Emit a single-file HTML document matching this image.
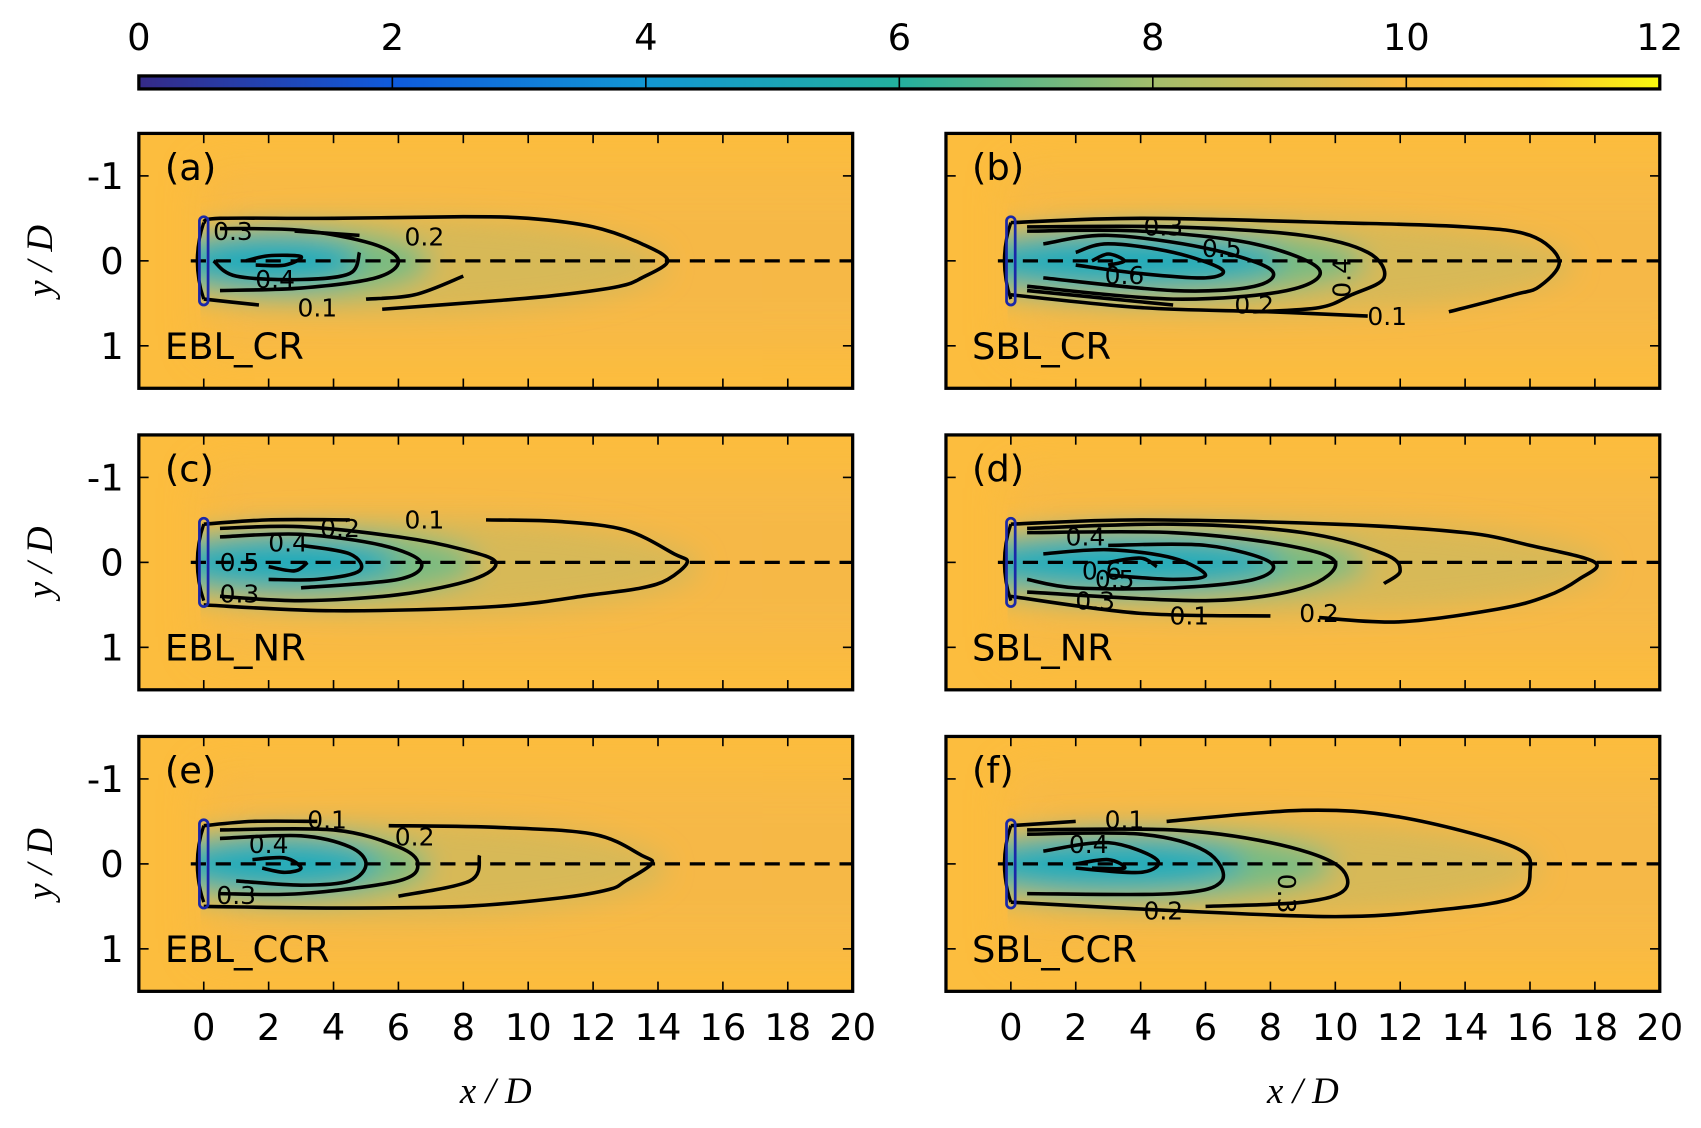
<!DOCTYPE html>
<html><head><meta charset="utf-8"><style>
html,body{margin:0;padding:0;background:#fff;}
svg{display:block;}
text{font-family:"DejaVu Sans","Liberation Sans",sans-serif;}
</style></head><body>
<svg id="fig" width="1701" height="1128" viewBox="0 0 1568 1040" preserveAspectRatio="none" xmlns="http://www.w3.org/2000/svg">
<defs>
<linearGradient id="cmap" x1="0" x2="1" y1="0" y2="0">
<stop offset="0" stop-color="#352a87"/><stop offset="0.17" stop-color="#0f5cdd"/>
<stop offset="0.33" stop-color="#1296d4"/><stop offset="0.5" stop-color="#23b09e"/>
<stop offset="0.67" stop-color="#a5be6b"/><stop offset="0.83" stop-color="#f8ba3f"/>
<stop offset="0.92" stop-color="#fbc530"/><stop offset="1" stop-color="#f9fb0e"/>
</linearGradient>
<filter id="blur" x="-50%" y="-50%" width="200%" height="200%"><feGaussianBlur stdDeviation="12"/></filter>
<filter id="blur2" x="-50%" y="-50%" width="200%" height="200%"><feGaussianBlur stdDeviation="20"/></filter>
</defs>
<g id="cbar"></g>
<g id="panels"></g>
</svg>
<script>
const cbTicks = [0, 2, 4, 6, 8, 10, 12];
const xTicks = [0, 2, 4, 6, 8, 10, 12, 14, 16, 18, 20];
const yTicks = [-1, 0, 1];
const panelNames = ["EBL_CR", "SBL_CR", "EBL_NR", "SBL_NR", "EBL_CCR", "SBL_CCR"];
const panelLetters = ["(a)", "(b)", "(c)", "(d)", "(e)", "(f)"];
// wake extents (x/D) for colour field: [outer length, mid length, core length]
const wakeLen = [[14, 7, 4], [17, 11, 7], [15, 8.5, 5], [18, 11, 7], [14, 7, 4.5], [16, 10, 6]];
const contoursA = [
 [[0,-0.45],[0.5,-0.5],[4,-0.5],[8,-0.52],[10,-0.5],[12,-0.4],[13.5,-0.2],[14.3,0],[13.5,0.2],[12.8,0.3],[11,0.4],[9,0.47],[5.5,0.57]],
 [[0,0.45],[1.7,0.52]],
 [[0.5,-0.38],[3,-0.36],[5.2,-0.2],[6,0],[5.3,0.2],[3,0.32],[0.5,0.35]],
 [[2.8,-0.35],[4.8,-0.3]],
 [[4.8,-0.1],[4.5,0.15],[3,0.22],[1,0.18],[0.3,0]],
 [[8,0.18],[6.5,0.4],[5,0.45]],
 [[1.3,0],[2,-0.06],[3,-0.05],[2.5,0.05],[1.6,0.05]]];
const contoursB = [
 [[0,-0.45],[4,-0.5],[10,-0.45],[14,-0.4],[16,-0.3],[16.9,0],[16.3,0.3],[15.5,0.4],[13.5,0.6]],
 [[0,0.4],[4,0.55],[8,0.6],[11,0.65]],
 [[0.5,-0.4],[5,-0.4],[9,-0.3],[11,-0.1],[11.5,0.2],[10.5,0.4],[9.5,0.55],[7.5,0.6]],
 [[0.5,0.35],[5,0.52]],
 [[0.5,-0.35],[4,-0.35],[7.5,-0.2],[9.5,0.1],[8.5,0.35],[5,0.45],[0.5,0.3]],
 [[1,-0.2],[3,-0.3],[6,-0.15],[8,0.1],[7.5,0.3],[5,0.35],[1,0.2]],
 [[2,-0.1],[3,-0.2],[5,-0.1],[6.5,0.1],[6,0.2],[4,0.15],[2,0.05]],
 [[2.5,0],[3,-0.08],[3.5,0],[3,0.05]]];
const contoursC = [
 [[8.7,-0.5],[11,-0.48],[13,-0.38],[14.5,-0.1],[14.9,0],[14.3,0.2],[13.5,0.3],[12,0.38],[9,0.52],[4,0.57],[0,0.5]],
 [[0,-0.45],[2,-0.5],[4.5,-0.5]],
 [[0.5,-0.4],[3,-0.42],[6,-0.3],[8,-0.15],[9,0],[8.3,0.2],[6,0.38],[3,0.45],[0.5,0.4]],
 [[0.5,-0.3],[3,-0.33],[5.5,-0.2],[6.7,0],[6,0.2],[3,0.3]],
 [[3,-0.2],[4.5,-0.1],[4.8,0.1],[3.5,0.2],[2,0.2]],
 [[2,0.05],[2.8,0.1],[3.2,0]]];
const contoursD = [
 [[0,-0.45],[4,-0.5],[10,-0.45],[14,-0.35],[16,-0.2],[18,0],[17.5,0.2],[16.5,0.4],[15,0.55],[12,0.7],[9.5,0.65]],
 [[0,0.4],[4,0.6],[8,0.63]],
 [[0.5,-0.4],[5,-0.45],[9,-0.35],[11.5,-0.1],[12,0.1],[11.5,0.25]],
 [[0.5,-0.35],[5,-0.35],[8.5,-0.2],[10,0],[9,0.3],[6,0.45],[0.5,0.35]],
 [[3,-0.2],[6,-0.2],[8,0],[7.5,0.2],[5,0.3],[2,0.3],[0.5,0.2]],
 [[1,-0.1],[3,-0.15],[5,-0.05],[6,0.15],[5,0.2],[3,0.15]],
 [[3,0],[4,-0.05],[4.5,0.05]]];
const contoursE = [
 [[5.7,-0.45],[9,-0.43],[12,-0.35],[13.5,-0.1],[13.8,0],[13,0.2],[12.5,0.3],[11,0.4],[8,0.5],[4,0.52],[0,0.5]],
 [[0,-0.45],[1.5,-0.5],[3.5,-0.5]],
 [[0.5,-0.4],[4,-0.4],[6,-0.2],[6.6,0],[6,0.2],[3,0.35],[0.5,0.35]],
 [[8.5,-0.1],[8.2,0.2],[6,0.38]],
 [[0.5,-0.3],[3,-0.33],[4.5,-0.2],[5,0],[4.5,0.2],[3,0.25],[1,0.2]],
 [[1.5,-0.05],[2.5,-0.07],[3,0.05],[2.5,0.1],[1.8,0.05]]];
const contoursF = [
 [[4.8,-0.5],[9,-0.63],[12,-0.55],[15.5,-0.2],[16,0.1],[15.5,0.4],[13,0.55],[10,0.62],[5,0.55],[0,0.45]],
 [[0,-0.45],[2,-0.5]],
 [[0.5,-0.4],[5,-0.4],[8,-0.25],[10,0],[10.3,0.3],[9,0.45],[6,0.5]],
 [[0.5,-0.35],[4,-0.35],[6,-0.15],[6.5,0.2],[5,0.35],[0.5,0.35]],
 [[1,-0.15],[3,-0.25],[4.5,-0.05],[4,0.1],[2,0.05]],
 [[2,0],[3,-0.05],[3.5,0.05],[2.5,0.05]]];
const allContours = [contoursA, contoursB, contoursC, contoursD, contoursE, contoursF];
// contour labels: [text, x, y, rotation]
const labelsA = [["0.3",0.9,-0.35,0],["0.2",6.8,-0.28,0],["0.4",2.2,0.22,0],["0.1",3.5,0.55,0]];
const labelsB = [["0.3",4.7,-0.4,0],["0.5",6.5,-0.15,0],["0.6",3.5,0.17,0],["0.4",10.2,0.2,-90],["0.2",7.5,0.52,0],["0.1",11.6,0.65,0]];
const labelsC = [["0.1",6.8,-0.5,0],["0.2",4.2,-0.4,0],["0.4",2.6,-0.23,0],["0.5",1.1,0,0],["0.3",1.1,0.37,0]];
const labelsD = [["0.4",2.3,-0.3,0],["0.6",2.8,0.1,0],["0.5",3.2,0.2,0],["0.3",2.6,0.45,0],["0.1",5.5,0.63,0],["0.2",9.5,0.6,0]];
const labelsE = [["0.1",3.8,-0.52,0],["0.2",6.5,-0.32,0],["0.4",2,-0.23,0],["0.3",1,0.37,0]];
const labelsF = [["0.1",3.5,-0.52,0],["0.4",2.4,-0.23,0],["0.2",4.7,0.55,0],["0.3",8.5,0.35,90]];
const allLabels = [labelsA, labelsB, labelsC, labelsD, labelsE, labelsF];

const NS = "http://www.w3.org/2000/svg";
function mk(tag, attrs, parent) {
  const e = document.createElementNS(NS, tag);
  for (const k in attrs) e.setAttribute(k, attrs[k]);
  if (parent) parent.appendChild(e);
  return e;
}
const cb = document.getElementById('cbar');
const cbX0 = 128, cbX1 = 1530;
const cbScale = v => cbX0 + (v / 12) * (cbX1 - cbX0);
const cbRect = mk('rect', {x: cbX0, y: 70, width: cbX1 - cbX0, height: 12, fill: 'url(#cmap)', stroke: '#000', 'stroke-width': 3}, cb);


cbTicks.forEach(v => {
  const x = cbScale(v);
  mk('line', {x1: x, x2: x, y1: 70, y2: 82, stroke: '#000', 'stroke-width': 1.5}, cb);
  const t = mk('text', {x: x, y: 46, 'font-size': 34, 'text-anchor': 'middle'}, cb);
  t.textContent = v;
  
  
});

function smoothPath(pts) {
  let d = 'M' + pts[0][0] + ',' + pts[0][1];
  for (let i = 0; i < pts.length - 1; i++) {
    const p0 = pts[Math.max(0, i - 1)], p1 = pts[i], p2 = pts[i + 1], p3 = pts[Math.min(pts.length - 1, i + 2)];
    const c1 = [p1[0] + (p2[0] - p0[0]) / 6, p1[1] + (p2[1] - p0[1]) / 6];
    const c2 = [p2[0] - (p3[0] - p1[0]) / 6, p2[1] - (p3[1] - p1[1]) / 6];
    d += 'C' + c1[0].toFixed(1) + ',' + c1[1].toFixed(1) + ' ' + c2[0].toFixed(1) + ',' + c2[1].toFixed(1) + ' ' + p2[0].toFixed(1) + ',' + p2[1].toFixed(1);
  }
  return d;
}

const panelsG = document.getElementById('panels');
const colX = [128, 872], rowY = [123, 401, 679];
const PW = 658, PH = 235;
for (let i = 0; i < 6; i++) {
  const px = colX[i % 2], py = rowY[Math.floor(i / 2)];
  const xs = x => px + (x + 2) / 22 * PW;
  const ys = y => py + (y + 1.5) / 3 * PH;
  const g = mk('g', {}, panelsG);
  
  
  const cid = 'clip' + i;
  const cp = mk('clipPath', {id: cid}, g);
  mk('rect', {x: px, y: py, width: PW, height: PH}, cp);
  const wid = 'wclip' + i;
  const wcp = mk('clipPath', {id: wid}, g);
  mk('rect', {x: xs(-0.1), y: py, width: PW, height: PH}, wcp);
  const field = mk('g', {'clip-path': 'url(#' + cid + ')'}, g);
  
  
  mk('rect', {x: px, y: py, width: PW, height: PH, fill: '#fcbd3e'}, field);
  mk('rect', {x: xs(0), y: ys(-1.05), width: PW, height: ys(1.05) - ys(-1.05), fill: '#f4b74c', opacity: 0.7, filter: 'url(#blur2)'}, field);
  const wl = wakeLen[i];
  const wg = mk('g', {'clip-path': 'url(#' + wid + ')'}, field);
  const bl = mk('g', {filter: 'url(#blur)'}, wg);
  mk('ellipse', {cx: xs(wl[0] * 0.4), cy: ys(0.05), rx: (xs(wl[0] * 0.62) - xs(0)), ry: ys(0.58) - ys(0), fill: '#d2b95a', opacity: 0.85}, bl);
  mk('ellipse', {cx: xs(wl[1] * 0.38), cy: ys(0.02), rx: (xs(wl[1] * 0.62) - xs(0)), ry: ys(0.42) - ys(0), fill: '#6fbc86', opacity: 0.9}, bl);
  mk('ellipse', {cx: xs(wl[2] * 0.5), cy: ys(0), rx: (xs(wl[2] * 0.7) - xs(0)), ry: ys(0.3) - ys(0), fill: '#1eaabd', opacity: 0.95}, bl);
  const cl = mk('line', {x1: xs(-0.4), x2: px + PW, y1: ys(0), y2: ys(0), stroke: '#000', 'stroke-width': 3, 'stroke-dasharray': '14,9'}, g);
  
  
  allContours[i].forEach(c => {
    const pts = c.map(p => [xs(p[0]), ys(p[1])]);
    const pth = mk('path', {d: smoothPath(pts), fill: 'none', stroke: '#000', 'stroke-width': 3.3}, g);
    
    
  });
  allLabels[i].forEach(l => {
    const t = mk('text', {x: xs(l[1]), y: ys(l[2]) + 8, 'font-size': 23, 'text-anchor': 'middle', transform: 'rotate(' + l[3] + ' ' + xs(l[1]) + ' ' + ys(l[2]) + ')'}, g);
    t.textContent = l[0];
    
    
  });
  mk('path', {d: 'M' + xs(0) + ',' + ys(-0.45) + 'Q' + (xs(0) - 12) + ',' + ys(0) + ' ' + xs(0) + ',' + ys(0.45), fill: 'none', stroke: '#000', 'stroke-width': 3}, g);
  const rot = mk('rect', {x: xs(0) - 4, y: ys(-0.52), width: 8, height: ys(0.52) - ys(-0.52), rx: 4, fill: 'none', stroke: '#1a28a8', 'stroke-width': 2.5}, g);
  
  
  const fr = mk('rect', {x: px, y: py, width: PW, height: PH, fill: 'none', stroke: '#000', 'stroke-width': 3}, g);
  
  
  xTicks.forEach(v => {
    mk('line', {x1: xs(v), x2: xs(v), y1: py, y2: py + 9, stroke: '#000', 'stroke-width': 1.5}, g);
    mk('line', {x1: xs(v), x2: xs(v), y1: py + PH, y2: py + PH - 9, stroke: '#000', 'stroke-width': 1.5}, g);
    if (i >= 4) {
      const t = mk('text', {x: xs(v), y: py + PH + 45, 'font-size': 34, 'text-anchor': 'middle'}, g);
      t.textContent = v;
      
      
    }
  });
  yTicks.forEach(v => {
    mk('line', {x1: px, x2: px + 9, y1: ys(v), y2: ys(v), stroke: '#000', 'stroke-width': 1.5}, g);
    mk('line', {x1: px + PW, x2: px + PW - 9, y1: ys(v), y2: ys(v), stroke: '#000', 'stroke-width': 1.5}, g);
    if (i % 2 === 0) {
      const t = mk('text', {x: px - 14, y: ys(v) + 12, 'font-size': 34, 'text-anchor': 'end'}, g);
      t.textContent = v;
      
      
    }
  });
  const lt = mk('text', {x: px + 24, y: py + 43, 'font-size': 34}, g);
  lt.textContent = panelLetters[i];
  
  
  const nt = mk('text', {x: px + 24, y: py + 208, 'font-size': 34}, g);
  nt.textContent = panelNames[i];
  
  
  if (i % 2 === 0) {
    const yl = mk('text', {x: 48, y: py + PH / 2, 'font-size': 34, 'font-style': 'italic', 'text-anchor': 'middle', transform: 'rotate(-90 48 ' + (py + PH / 2) + ')', style: 'font-family:"Liberation Serif",serif'}, g);
    yl.textContent = 'y / D';
    
    
  }
  if (i >= 4) {
    const xl = mk('text', {x: px + PW / 2, y: 1017, 'font-size': 34, 'font-style': 'italic', 'text-anchor': 'middle', style: 'font-family:"Liberation Serif",serif'}, g);
    xl.textContent = 'x / D';
    
    
  }
}
</script>
</body></html>
